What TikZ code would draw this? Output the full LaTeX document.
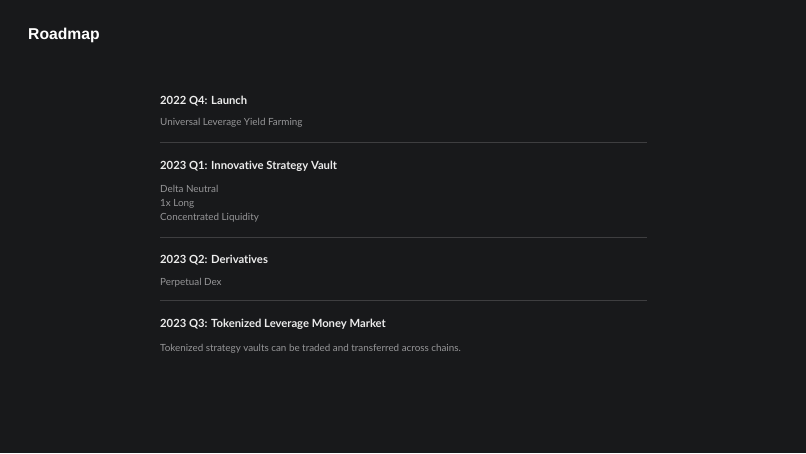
\documentclass[tikz,border=0pt]{standalone}
\usepackage{fontspec}
\setmainfont{Lato}[Ligatures=NoCommon]
\newfontfamily\titlefont{Liberation Sans}
\usepackage{tikz}
\usetikzlibrary{positioning}
\definecolor{mybg}{RGB}{24,25,27}
\definecolor{myhead}{RGB}{236,236,236}
\definecolor{mysub}{RGB}{150,150,152}
\definecolor{myrule}{RGB}{62,62,64}

\begin{document}
\begin{tikzpicture}[
  x=1pt,
  y=1pt,
  mytitle/.style={
    anchor=west,
    inner sep=0pt,
    text=white,
    font=\titlefont\bfseries\fontsize{15.7}{18}\selectfont
    },
  myhead/.style={
    anchor=west,
    inner sep=0pt,
    text=myhead,
    font=\bfseries\fontsize{11.25}{14}\selectfont
    },
  mysub/.style={
    anchor=west,
    inner sep=0pt,
    text=mysub,
    align=left,
    font=\fontsize{9.85}{14}\selectfont
    },
  myrule/.style={
    draw=myrule,
    line width=0.9pt
  }
]

\fill[mybg] (0,0) rectangle (806,-453);
\useasboundingbox (0,0) rectangle (806,-453);

\node[mytitle] (title) at (28,-35) {Roadmap};

\node[myhead] (h1) at (160,-101.5) {2022 Q4: Launch};
\node[mysub] (s1) at (160,-123) {Universal Leverage Yield Farming};

\node[myhead] (h2) at (160,-166.5) {2023 Q1: Innovative Strategy Vault};
\node[mysub] (s2) at (160,-204) {Delta Neutral\\1x Long\\Concentrated Liquidity};

\node[myhead] (h3) at (160,-260.5) {2023 Q2: Derivatives};
\node[mysub] (s3) at (160,-283) {Perpetual Dex};

\node[myhead] (h4) at (160,-324.5) {2023 Q3: Tokenized Leverage Money Market};
\node[mysub] (s4) at (160,-349) {Tokenized strategy vaults can be traded and transferred across chains.};

\coordinate (r1a) at (160,-142);
\coordinate (r1b) at (647,-142);
\coordinate (r2a) at (160,-237);
\coordinate (r2b) at (647,-237);
\coordinate (r3a) at (160,-300);
\coordinate (r3b) at (647,-300);

\draw[myrule] (r1a) -- (r1b);
\draw[myrule] (r2a) -- (r2b);
\draw[myrule] (r3a) -- (r3b);

\end{tikzpicture}
\end{document}
